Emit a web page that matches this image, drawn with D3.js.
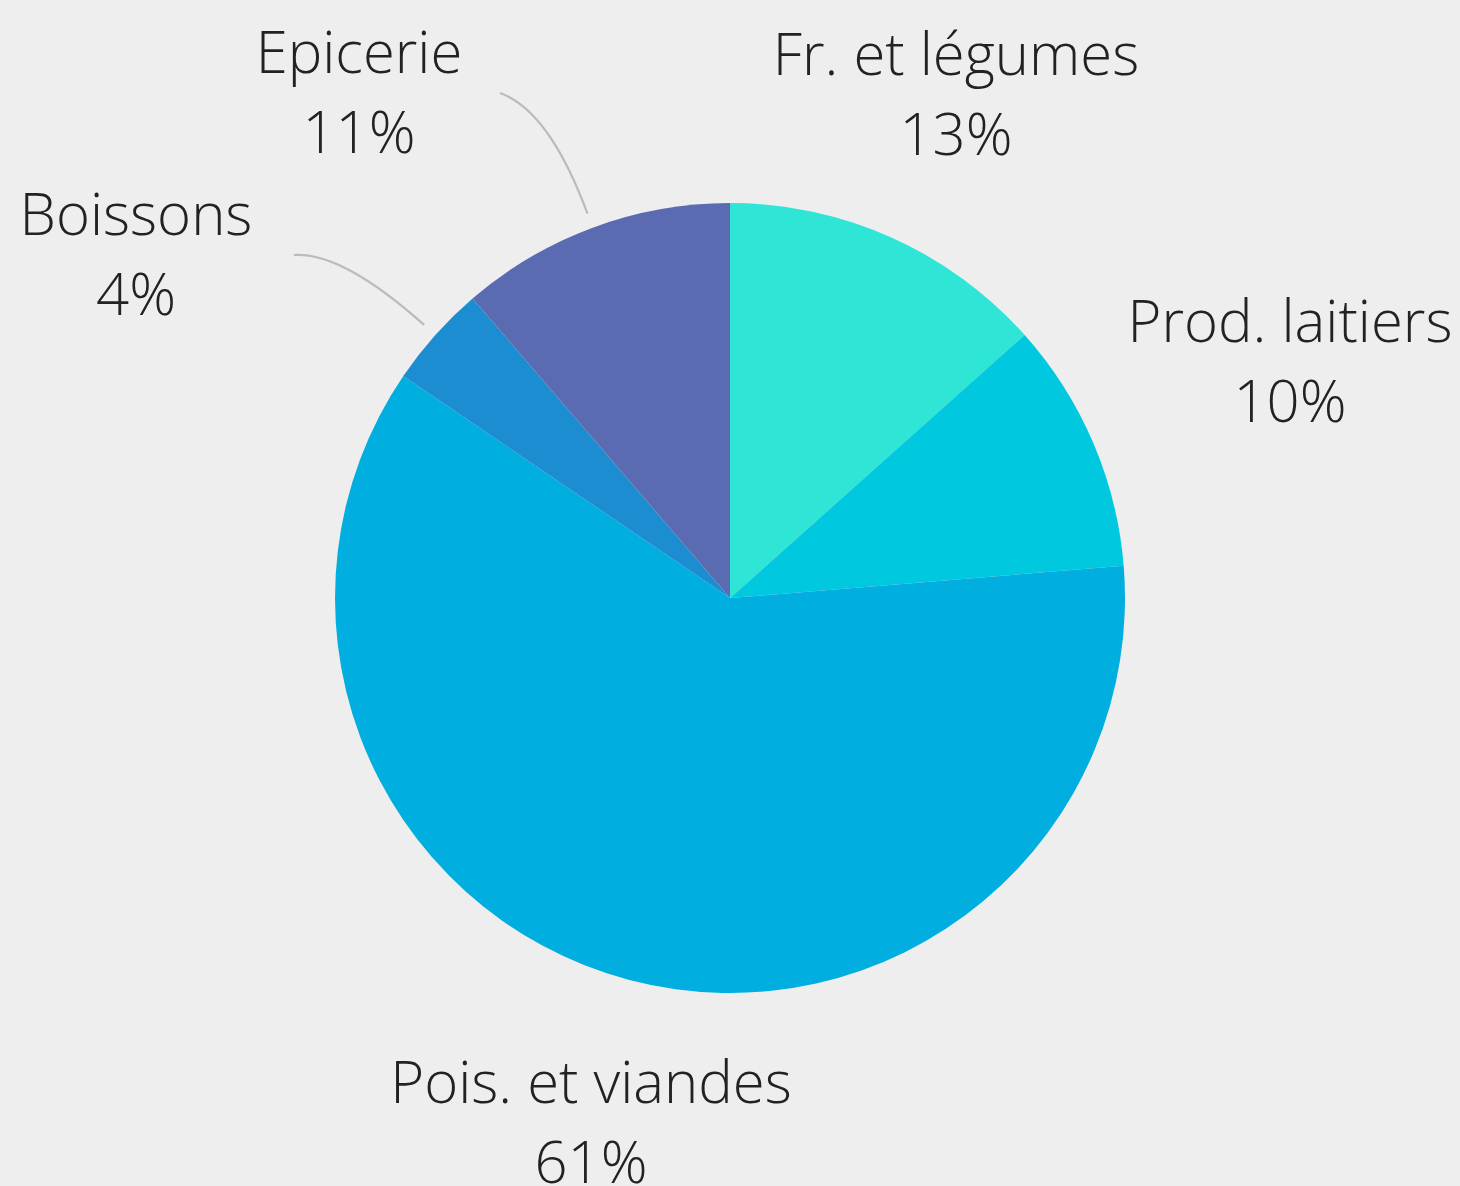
<!DOCTYPE html>
<html>
<head>
<meta charset="utf-8">
<script src="https://cdn.jsdelivr.net/npm/d3@7"></script>
<style>
  html, body { margin: 0; padding: 0; background: #eeeeee; }
  svg { display: block; }
  .label { font-family: "Open Sans", sans-serif; font-weight: 300; font-size: 58px; fill: #222222; }
  .connector { fill: none; stroke: #bbbbbb; stroke-width: 2.2; }
</style>
</head>
<body>
<div id="chart"></div>
<script>
// categories in drawing order, clockwise from 12 o'clock
const categories = ['Fr. et légumes', 'Prod. laitiers', 'Pois. et viandes', 'Boissons', 'Epicerie'];
const shares = [13.4, 10.3, 60.8, 4.2, 11.3];
const colors = ['#2ee5d6', '#00c9df', '#00aedf', '#1c8dd1', '#5a6bb1'];

const width = 1460, height = 1186;
const cx = 730, cy = 598, radius = 395;

// label anchor (centre of the two-line block, first baseline) per slice
const labelPos = {
  'Fr. et légumes': [956, 75],
  'Prod. laitiers': [1290, 342],
  'Pois. et viandes': [591, 1103],
  'Boissons': [136, 235],
  'Epicerie': [359, 73]
};
// start point of the curved leader for labels that have one
const leaderStart = {
  'Boissons': [294, 255],
  'Epicerie': [500, 93]
};
const lineGap = 80;

const data = categories.map((c, i) => ({ name: c, value: shares[i], color: colors[i] }));

const svg = d3.select('#chart').append('svg')
    .attr('width', width)
    .attr('height', height);

svg.append('rect')
    .attr('width', width)
    .attr('height', height)
    .attr('fill', '#eeeeee');

const chart = svg.append('g')
    .attr('transform', `translate(${cx},${cy})`);

const pie = d3.pie().sort(null).value(d => d.value);
const arc = d3.arc().innerRadius(0).outerRadius(radius);
const arcs = pie(data);

chart.selectAll('.slice')
    .data(arcs)
  .join('path')
    .attr('class', 'slice')
    .attr('d', arc)
    .attr('fill', d => d.data.color);

// point on the mid-angle ray at distance r
const rayPoint = (d, r) => {
  const a = (d.startAngle + d.endAngle) / 2;
  return [r * Math.sin(a), -r * Math.cos(a)];
};

// curved leaders
chart.selectAll('.connector')
    .data(arcs.filter(d => leaderStart[d.data.name]))
  .join('path')
    .attr('class', 'connector')
    .attr('d', d => {
      const s = leaderStart[d.data.name];
      const sx = s[0] - cx, sy = s[1] - cy;
      const c = rayPoint(d, radius + 125);
      const e = rayPoint(d, radius + 15);
      return `M${sx},${sy}Q${c[0]},${c[1]} ${e[0]},${e[1]}`;
    });

// labels
const labels = svg.selectAll('.label')
    .data(arcs)
  .join('text')
    .attr('class', 'label')
    .attr('text-anchor', 'middle');

labels.append('tspan')
    .attr('x', d => labelPos[d.data.name][0])
    .attr('y', d => labelPos[d.data.name][1])
    .text(d => d.data.name);

labels.append('tspan')
    .attr('x', d => labelPos[d.data.name][0])
    .attr('y', d => labelPos[d.data.name][1] + lineGap)
    .text(d => Math.round(d.data.value) + '%');
</script>
</body>
</html>
